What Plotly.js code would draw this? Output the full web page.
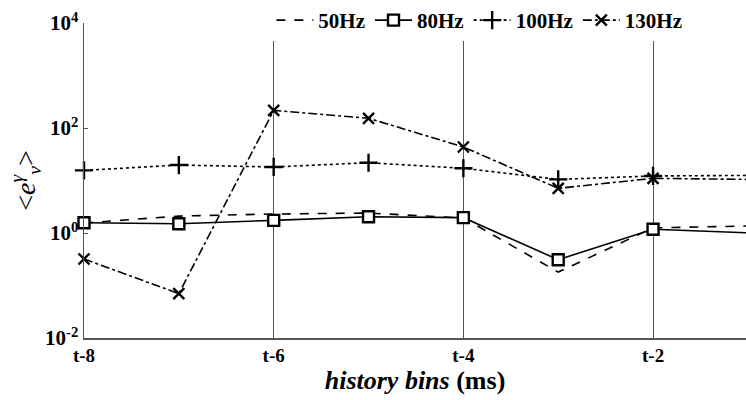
<!DOCTYPE html>
<html>
<head>
<meta charset="utf-8">
<script src="https://cdn.plot.ly/plotly-3.0.1.min.js"></script>
<style>html,body{margin:0;padding:0;background:#fff;}#chart{width:746px;height:400px;}</style>
</head>
<body>
<div id="chart"></div>
<script>
const bins = [-8, -7, -6, -5, -4, -3, -2, -1];
const xTickVals = [-8, -6, -4, -2];
const xTickText = ['t-8', 't-6', 't-4', 't-2'];
const yTickVals = [0.01, 1, 100, 10000];
const yTickText = ['10<sup>-2</sup>', '10<sup>0</sup>', '10<sup>2</sup>', '10<sup>4</sup>'];

const names = ['50Hz', '80Hz', '100Hz', '130Hz'];
const hz50  = [1.55, 2.1, 2.3, 2.4, 1.93, 0.18, 1.25, 1.36];
const hz80  = [1.57, 1.5, 1.74, 2.04, 1.96, 0.31, 1.18, 1.01];
const hz100 = [15.6, 19.7, 18.1, 21.8, 17.1, 10.5, 12.2, 12.5];
const hz130 = [0.32, 0.07, 217, 153, 43.5, 7.1, 11, 10.5];

const font = 'Liberation Serif, Times New Roman, serif';
const series = [hz50, hz80, hz100, hz130];
const dashes = ['dash', 'solid', 'dot', 'dashdot'];
const symbols = ['line-ew-open', 'square', 'cross-thin-open', 'x-thin-open'];
const msize = [0, 11, 13, 11];

const traces = series.map((ys, i) => ({
  x: bins, y: ys, name: names[i], type: 'scatter',
  mode: i === 0 ? 'lines' : 'lines+markers',
  line: {color: '#000', width: 1.6, dash: dashes[i]},
  marker: {symbol: symbols[i], size: msize[i], color: i === 1 ? '#fff' : '#000',
           line: {color: '#000', width: 2.4}},
  cliponaxis: false
}));

const layout = {
  width: 746, height: 400,
  margin: {l: 84, r: 0, t: 22, b: 62},
  paper_bgcolor: '#fff', plot_bgcolor: '#fff',
  font: {family: font, color: '#000'},
  showlegend: true,
  legend: {orientation: 'h', x: 0.283, xanchor: 'left', y: 1.072, yanchor: 'top',
           bgcolor: '#fff', font: {family: font, size: 21, weight: 'bold'},
           itemwidth: 37, tracegroupgap: 0},
  xaxis: {range: [-8, -1.02], tickvals: xTickVals, ticktext: xTickText,
          showgrid: true, gridcolor: '#555', gridwidth: 1,
          showline: true, linecolor: '#555', linewidth: 1.5, mirror: false,
          ticks: 'inside', ticklen: 4, tickcolor: '#555', zeroline: false,
          tickfont: {family: font, size: 19, weight: 'bold'},
          title: {text: '<i>history bins</i> (ms)', standoff: 0,
                  font: {family: font, size: 26, weight: 'bold'}}},
  yaxis: {type: 'log', range: [-2, 4], tickvals: yTickVals, ticktext: yTickText,
          showgrid: false, showline: true, linecolor: '#555', linewidth: 1.5,
          ticks: 'inside', ticklen: 4, tickcolor: '#555', zeroline: false,
          tickfont: {family: font, size: 21, weight: 'bold'},
          title: {text: '&lt;<i>e</i><sup><i>γ</i></sup><sub><i>v</i></sub>&gt;', standoff: 1,
                  font: {family: font, size: 28}}},
  shapes: [{type: 'line', xref: 'paper', x0: 0, x1: 1, yref: 'y', y0: 0, y1: 0,
            line: {color: '#555', width: 1}, layer: 'below'}]
};

Plotly.newPlot('chart', traces, layout, {displayModeBar: false, staticPlot: true});
</script>
</body>
</html>
